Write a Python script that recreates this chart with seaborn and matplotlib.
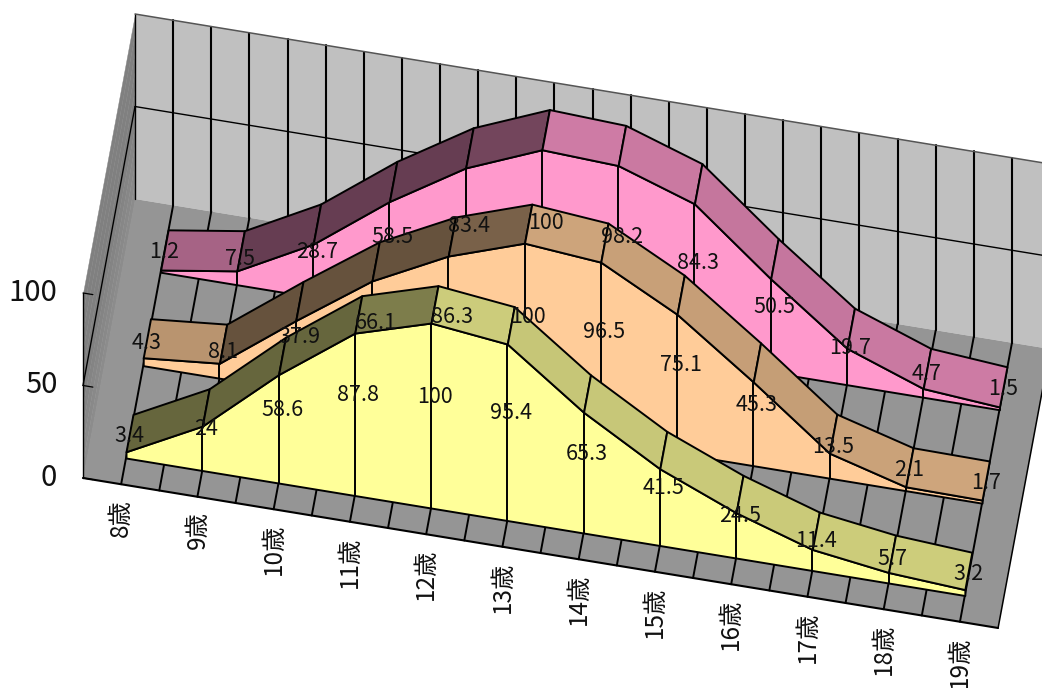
import numpy as np
import matplotlib
matplotlib.use("Agg")
import matplotlib.pyplot as plt
import seaborn as sns
from mpl_toolkits.mplot3d import proj3d
from mpl_toolkits.mplot3d.art3d import Poly3DCollection

# Percentage of peak growth by age, three series front to back
ages = ["8歳", "9歳", "10歳", "11歳", "12歳", "13歳", "14歳", "15歳", "16歳", "17歳", "18歳", "19歳"]
yellow_values = [3.4, 24, 58.6, 87.8, 100, 95.4, 65.3, 41.5, 24.5, 11.4, 5.7, 3.2]
orange_values = [4.3, 8.1, 37.9, 66.1, 86.3, 100, 96.5, 75.1, 45.3, 13.5, 2.1, 1.7]
pink_values = [1.2, 7.5, 28.7, 58.5, 83.4, 100, 98.2, 84.3, 50.5, 19.7, 4.7, 1.5]
value_ticks = [0, 50, 100]

W, H = 1042, 688
sns.set_theme(style="white")
plt.rcParams["font.family"] = ["Noto Sans CJK JP", "DejaVu Sans"]

fig = plt.figure(figsize=(W / 100, H / 100), dpi=100, facecolor="white")
ax = fig.add_axes([0, 0, 1, 1], projection="3d", proj_type="ortho", computed_zorder=False)
ax.view_init(elev=69.67, azim=-80.085)
ax.set_box_aspect((928.9, 302, 532.5))
ax.set_axis_off()
ax.patch.set_alpha(0)

n_cats = len(ages)
ax.set_xlim(0, n_cats, view_margin=0)
ax.set_ylim(0, 1, view_margin=0)
ax.set_zlim(0, 100, view_margin=0)

LW = 1.4
BLACK = "#000000"
TEXT = "#111111"


def line(xs, ys, zs, z, color=BLACK, lw=LW):
    ax.plot(xs, ys, zs, color=color, lw=lw, zorder=z, solid_capstyle="round")


def poly(verts, colors, z, edge="none", lw=LW):
    col = Poly3DCollection(verts, facecolors=colors, edgecolors=edge, linewidths=lw, zorder=z, closed=True)
    ax.add_collection3d(col, autolim=False)


def label(x, y, z, s, **kw):
    # Text is placed in the axes' 2D plane at the projected point of a data position
    px, py, _pz = proj3d.proj_transform(x, y, z, ax.get_proj())
    ax.annotate(s, (px, py), xycoords="data", annotation_clip=False, color=TEXT, **kw)


# Left wall fades slightly from the floor upwards, drawn as thin horizontal strips
strip_edges = np.linspace(0, 100, 11)
strip_greys = np.interp(strip_edges[:-1], [0, 45, 100], [0.55, 0.50, 0.50])
for lo, hi, grey in zip(strip_edges[:-1], strip_edges[1:], strip_greys):
    poly([[(0, 0, lo), (0, 1, lo), (0, 1, hi), (0, 0, hi)]], [(grey, grey, grey)], 1, edge=(grey, grey, grey), lw=0.3)

# Back wall and floor
poly([[(0, 1, 0), (n_cats, 1, 0), (n_cats, 1, 100), (0, 1, 100)]], ["#C0C0C0"], 1)
poly([[(0, 0, 0), (n_cats, 0, 0), (n_cats, 1, 0), (0, 1, 0)]], ["#959595"], 2)

grid_steps = np.arange(0.5, n_cats, 0.5)
for g in grid_steps:
    line([g, g], [1, 1], [0, 100], 3, lw=1.5)
    line([g, g], [0, 1], [0, 0], 3)
line([0, 0], [1, 1], [0, 100], 3, lw=1.0)
line([0, n_cats], [1, 1], [50, 50], 3, lw=1.0)
line([0, n_cats], [1, 1], [100, 100], 3, color="#555555", lw=1.1)
line([0, 0], [0, 1], [50, 50], 3, lw=1.0)
line([0, n_cats], [0, 0], [0, 0], 4, lw=1.5)
line([n_cats, n_cats], [0, 1], [0, 0], 4, lw=1.1)

# Value axis with its ticks
line([0, 0], [0, 0], [0, 100], 5, lw=1.0)
for v in value_ticks:
    line([0, 0.13], [0, 0], [v, v], 5, lw=0.9)
    label(-0.34, 0, v - 2.3, str(v), ha="right", va="center", fontsize=21, zorder=60)

# Age labels under the front edge
for i, age in enumerate(ages):
    label(i + 0.5, 0, -8.0, age, rotation=90, ha="center", va="top", fontsize=17.5, zorder=60)


def face_shade(rise):
    # Top faces get darker the more steeply they climb towards the viewer's right
    return np.interp(rise, [-35, -5, 0, 3, 6.3, 12.2, 16.6, 20, 40],
                     [0.77, 0.80, 0.81, 0.75, 0.65, 0.49, 0.45, 0.40, 0.40])


def draw_band(values, base_rgb, y_front, depth, z):
    xs = np.arange(n_cats) + 0.5
    vals = np.asarray(values, dtype=float)
    y_back = y_front + depth
    front = [(xs[0], y_front, 0)] + [(x, y_front, v) for x, v in zip(xs, vals)] + [(xs[-1], y_front, 0)]
    poly([front], [base_rgb], z, edge=BLACK)
    for x, v in zip(xs[1:-1], vals[1:-1]):
        line([x, x], [y_front, y_front], [0, v], z + 0.1)
    rgb = np.array(matplotlib.colors.to_rgb(base_rgb))
    for i in range(n_cats - 1):
        quad = [(xs[i], y_front, vals[i]), (xs[i + 1], y_front, vals[i + 1]),
                (xs[i + 1], y_back, vals[i + 1]), (xs[i], y_back, vals[i])]
        poly([quad], [tuple(rgb * face_shade(vals[i + 1] - vals[i]))], z + 0.2, edge=BLACK)
    for x, v in zip(xs, vals):
        label(x, y_front + 0.068, v / 2, f"{v:g}", ha="center", va="center", fontsize=15.5, zorder=80)


draw_band(pink_values, "#FF99CC", 0.76, 0.144, 10)
draw_band(orange_values, "#FFCC99", 0.425, 0.14, 20)
draw_band(yellow_values, "#FFFF99", 0.094, 0.134, 30)

ax.set_xlim(0, n_cats, view_margin=0)
ax.set_ylim(0, 1, view_margin=0)
ax.set_zlim(0, 100, view_margin=0)

# Size and place the square 3D axes so the floor's front edge sits where wanted
anchor_a = np.array([83.0, H - 478.0])
anchor_b = np.array([998.0, H - 628.5])
side, cx, cy = 1200.0, W / 2, H / 2
for _ in range(5):
    ax.set_position([(cx - side / 2) / W, (cy - side / 2) / H, side / W, side / H])
    ax.apply_aspect()
    M = ax.get_proj()
    pts = []
    for xd in (0, n_cats):
        px, py, _pz = proj3d.proj_transform(xd, 0, 0, M)
        pts.append(ax.transData.transform((px, py)))
    a, b = pts
    factor = np.linalg.norm(anchor_b - anchor_a) / np.linalg.norm(b - a)
    side *= factor
    centre = np.array([cx, cy])
    new_a = centre + (a - centre) * factor
    cx, cy = centre + (anchor_a - new_a)
ax.set_position([(cx - side / 2) / W, (cy - side / 2) / H, side / W, side / H])

fig.savefig("out.png", dpi=100, facecolor="white")
